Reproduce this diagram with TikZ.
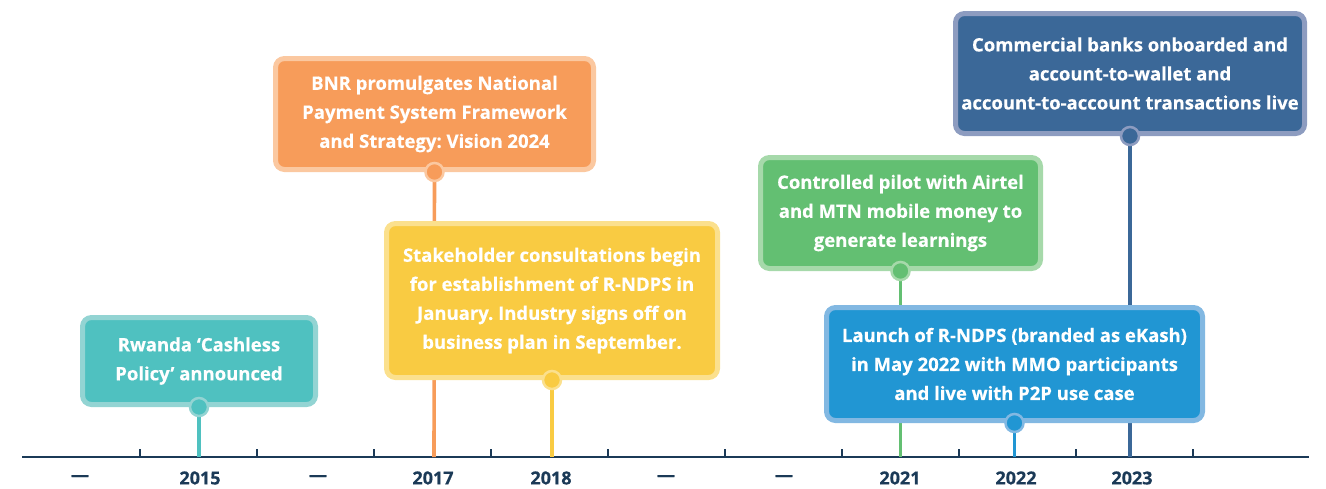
\documentclass[tikz,border=0pt]{standalone}
\usepackage{fontspec}
\setmainfont{Open Sans}[FakeBold=0.45]
\frenchspacing
\usetikzlibrary{positioning}
\definecolor{navy}{HTML}{1B3A57}
\definecolor{tealF}{HTML}{4FC1C0}\definecolor{tealB}{HTML}{93D4D3}
\definecolor{oranF}{HTML}{F79C5A}\definecolor{oranB}{HTML}{FBC8A0}
\definecolor{yellF}{HTML}{F9CB42}\definecolor{yellB}{HTML}{FBE08D}
\definecolor{greeF}{HTML}{63BF72}\definecolor{greeB}{HTML}{A6D9AA}
\definecolor{bluF}{HTML}{2196D3}\definecolor{bluB}{HTML}{82B8E2}
\definecolor{darkF}{HTML}{3B6898}\definecolor{darkB}{HTML}{8D9CC0}
\tikzset{
  evbox/.style={rounded corners=9pt, line width=5pt, text=white, align=center,
    font=\bfseries\fontsize{18.5}{29}\selectfont, inner sep=0pt},
  dot/.style={circle, line width=2.5pt, minimum size=18pt, inner sep=0pt},
  stem/.style={line width=3.6pt},
  tickmark/.style={line width=1.2pt, draw=navy},
  yr/.style={font=\bfseries\fontsize{18}{20}\selectfont, text=navy},
}
\begin{document}
\begin{tikzpicture}[x=1pt,y=-1pt]
\useasboundingbox (0,0) rectangle (1326,488);
% axis
\coordinate (axL) at (22,457);
\coordinate (axR) at (1309,457);
\draw[line width=2.8pt, navy] (axL) -- (axR);
\foreach \i in {0,...,9}{
  \draw[tickmark] ({140+117*\i},457) -- ({140+117*\i},449);
}
% labels
\node[yr] (l0) at (80,478) {---};
\node[yr] (l1) at (200,478) {2015};
\node[yr] (l2) at (318,478) {---};
\node[yr] (l3) at (433,478) {2017};
\node[yr] (l4) at (551,478) {2018};
\node[yr] (l5) at (666,478) {---};
\node[yr] (l6) at (784,478) {---};
\node[yr] (l7) at (900,478) {2021};
\node[yr] (l8) at (1016,478) {2022};
\node[yr] (l9) at (1132,478) {2023};
% stem endpoints
\coordinate (a1) at (199,457);
\coordinate (a2) at (434,457);
\coordinate (a3) at (552,457);
\coordinate (a4) at (900.5,457);
\coordinate (a5) at (1014.5,457);
\coordinate (a6) at (1130,457);
% boxes (positions only)
\path
 (199,361) node[evbox, minimum width=233pt, minimum height=87pt] (b1) {}
 (434.5,114) node[evbox, minimum width=318pt, minimum height=111pt] (b2) {}
 (552,300.5) node[evbox, minimum width=331pt, minimum height=154pt] (b3) {}
 (900.5,213) node[evbox, minimum width=280pt, minimum height=111pt] (b4) {}
 (1014.5,364) node[evbox, minimum width=376pt, minimum height=113pt] (b5) {}
 (1130,73.5) node[evbox, minimum width=349pt, minimum height=120pt] (b6) {};
% stems
\draw[stem, tealF] (b1.south) -- (a1);
\draw[stem, oranF] (b2.south) -- (a2);
\draw[stem, yellF] (b3.south) -- (a3);
\draw[stem, greeF] (b4.south) -- (a4);
\draw[stem, bluF] (b5.south) -- (a5);
\draw[stem, darkF] (b6.south) -- (a6);
% boxes drawn
\node[evbox, fill=tealF, draw=tealB, minimum width=233pt, minimum height=87pt] at (b1) {Rwanda ‘Cashless\\Policy’ announced};
\node[evbox, fill=oranF, draw=oranB, minimum width=318pt, minimum height=111pt] at (b2) {BNR promulgates National\\Payment System Framework\\and Strategy: Vision 2024};
\node[evbox, fill=yellF, draw=yellB, minimum width=331pt, minimum height=154pt] at (b3) {Stakeholder consultations begin\\for establishment of R-NDPS in\\January. Industry signs off on\\business plan in September.};
\node[evbox, fill=greeF, draw=greeB, minimum width=280pt, minimum height=111pt] at (b4) {Controlled pilot with Airtel\\and MTN mobile money to\\generate learnings};
\node[evbox, fill=bluF, draw=bluB, minimum width=376pt, minimum height=113pt] at (b5) {Launch of R-NDPS (branded as eKash)\\in May 2022 with MMO participants\\and live with P2P use case};
\node[evbox, fill=darkF, draw=darkB, minimum width=349pt, minimum height=120pt] at (b6) {Commercial banks onboarded and\\account-to-wallet and\\account-to-account transactions live};
% dots
\node[dot, fill=tealF, draw=tealB] (c1) at (b1.south) {};
\node[dot, fill=oranF, draw=oranB] (c2) at (b2.south) {};
\node[dot, fill=yellF, draw=yellB] (c3) at (b3.south) {};
\node[dot, fill=greeF, draw=greeB] (c4) at (b4.south) {};
\node[dot, fill=bluF, draw=bluB] (c5) at (b5.south) {};
\node[dot, fill=darkF, draw=darkB] (c6) at (b6.south) {};
\end{tikzpicture}
\end{document}
